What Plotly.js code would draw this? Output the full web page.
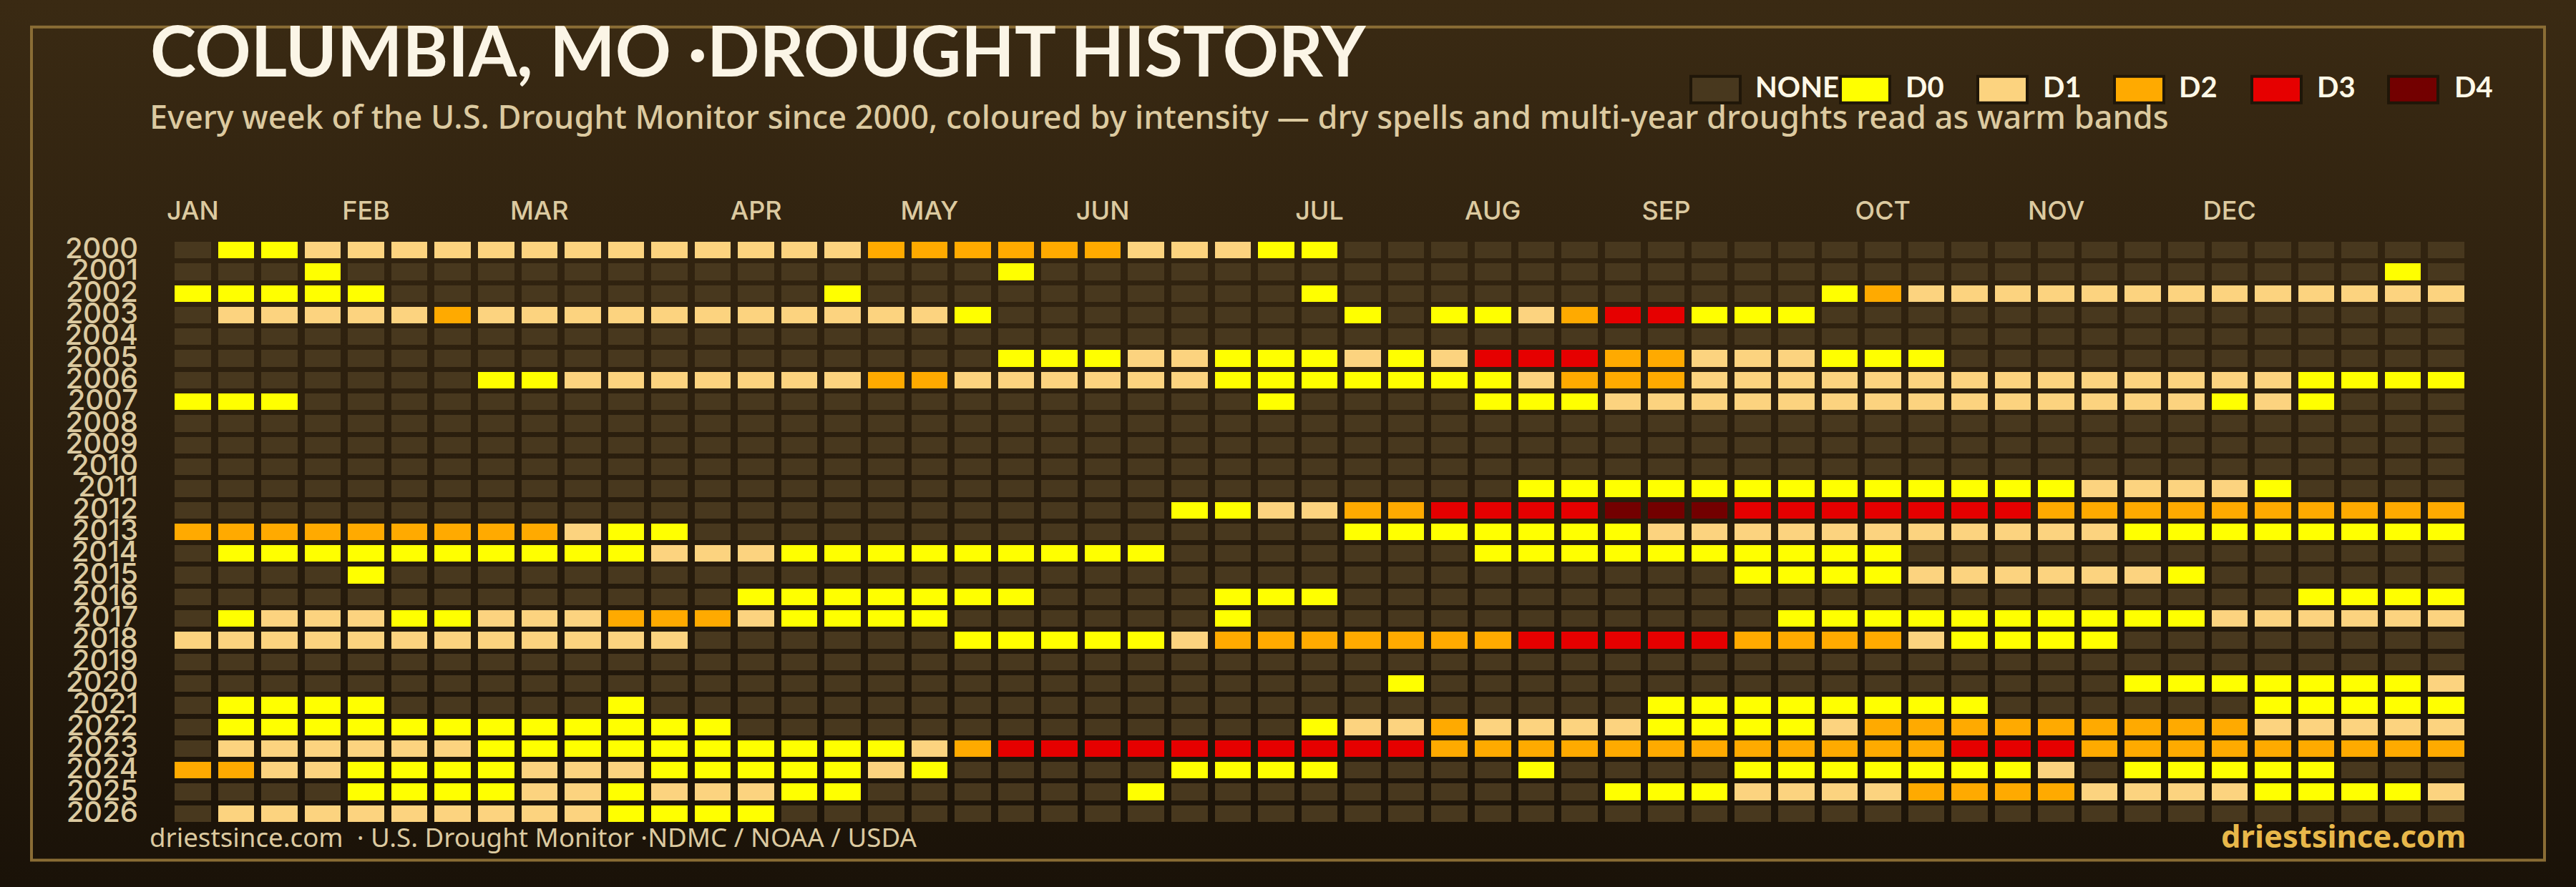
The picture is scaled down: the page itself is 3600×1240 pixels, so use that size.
<!DOCTYPE html>
<html>
<head>
<meta charset="utf-8">
<script src="https://cdn.plot.ly/plotly-3.0.1.min.js"></script>
<style>
  html, body { margin: 0; padding: 0; overflow: hidden; }
  body { width: 3600px; height: 1240px; background: linear-gradient(180deg, #3a2a13 0%, #1a1208 100%); }
</style>
</head>
<body>
<div id="chart"></div>
<script>
// weekly drought class per year: 0 none, 1 D0 ... 5 D4
const y2000 = [0,1,1,2,2,2,2,2,2,2, 2,2,2,2,2,2,3,3,3,3, 3,3,2,2,2,1,1,0,0,0, 0,0,0,0,0,0,0,0,0,0, 0,0,0,0,0,0,0,0,0,0, 0,0,0];
const y2001 = [0,0,0,1,0,0,0,0,0,0, 0,0,0,0,0,0,0,0,0,1, 0,0,0,0,0,0,0,0,0,0, 0,0,0,0,0,0,0,0,0,0, 0,0,0,0,0,0,0,0,0,0, 0,1,0];
const y2002 = [1,1,1,1,1,0,0,0,0,0, 0,0,0,0,0,1,0,0,0,0, 0,0,0,0,0,0,1,0,0,0, 0,0,0,0,0,0,0,0,1,3, 2,2,2,2,2,2,2,2,2,2, 2,2,2];
const y2003 = [0,2,2,2,2,2,3,2,2,2, 2,2,2,2,2,2,2,2,1,0, 0,0,0,0,0,0,0,1,0,1, 1,2,3,4,4,1,1,1,0,0, 0,0,0,0,0,0,0,0,0,0, 0,0,0];
const y2004 = [0,0,0,0,0,0,0,0,0,0, 0,0,0,0,0,0,0,0,0,0, 0,0,0,0,0,0,0,0,0,0, 0,0,0,0,0,0,0,0,0,0, 0,0,0,0,0,0,0,0,0,0, 0,0,0];
const y2005 = [0,0,0,0,0,0,0,0,0,0, 0,0,0,0,0,0,0,0,0,1, 1,1,2,2,1,1,1,2,1,2, 4,4,4,3,3,2,2,2,1,1, 1,0,0,0,0,0,0,0,0,0, 0,0,0];
const y2006 = [0,0,0,0,0,0,0,1,1,2, 2,2,2,2,2,2,3,3,2,2, 2,2,2,2,1,1,1,1,1,1, 1,2,3,3,3,2,2,2,2,2, 2,2,2,2,2,2,2,2,2,1, 1,1,1];
const y2007 = [1,1,1,0,0,0,0,0,0,0, 0,0,0,0,0,0,0,0,0,0, 0,0,0,0,0,1,0,0,0,0, 1,1,1,2,2,2,2,2,2,2, 2,2,2,2,2,2,2,1,2,1, 0,0,0];
const y2008 = [0,0,0,0,0,0,0,0,0,0, 0,0,0,0,0,0,0,0,0,0, 0,0,0,0,0,0,0,0,0,0, 0,0,0,0,0,0,0,0,0,0, 0,0,0,0,0,0,0,0,0,0, 0,0,0];
const y2009 = [0,0,0,0,0,0,0,0,0,0, 0,0,0,0,0,0,0,0,0,0, 0,0,0,0,0,0,0,0,0,0, 0,0,0,0,0,0,0,0,0,0, 0,0,0,0,0,0,0,0,0,0, 0,0,0];
const y2010 = [0,0,0,0,0,0,0,0,0,0, 0,0,0,0,0,0,0,0,0,0, 0,0,0,0,0,0,0,0,0,0, 0,0,0,0,0,0,0,0,0,0, 0,0,0,0,0,0,0,0,0,0, 0,0,0];
const y2011 = [0,0,0,0,0,0,0,0,0,0, 0,0,0,0,0,0,0,0,0,0, 0,0,0,0,0,0,0,0,0,0, 0,1,1,1,1,1,1,1,1,1, 1,1,1,1,2,2,2,2,1,0, 0,0,0];
const y2012 = [0,0,0,0,0,0,0,0,0,0, 0,0,0,0,0,0,0,0,0,0, 0,0,0,1,1,2,2,3,3,4, 4,4,4,5,5,5,4,4,4,4, 4,4,4,3,3,3,3,3,3,3, 3,3,3];
const y2013 = [3,3,3,3,3,3,3,3,3,2, 1,1,0,0,0,0,0,0,0,0, 0,0,0,0,0,0,0,1,1,1, 1,1,1,1,2,2,2,2,2,2, 2,2,2,2,2,1,1,1,1,1, 1,1,1];
const y2014 = [0,1,1,1,1,1,1,1,1,1, 1,2,2,2,1,1,1,1,1,1, 1,1,1,0,0,0,0,0,0,0, 1,1,1,1,1,1,1,1,1,1, 0,0,0,0,0,0,0,0,0,0, 0,0,0];
const y2015 = [0,0,0,0,1,0,0,0,0,0, 0,0,0,0,0,0,0,0,0,0, 0,0,0,0,0,0,0,0,0,0, 0,0,0,0,0,0,1,1,1,1, 2,2,2,2,2,2,1,0,0,0, 0,0,0];
const y2016 = [0,0,0,0,0,0,0,0,0,0, 0,0,0,1,1,1,1,1,1,1, 0,0,0,0,1,1,1,0,0,0, 0,0,0,0,0,0,0,0,0,0, 0,0,0,0,0,0,0,0,0,1, 1,1,1];
const y2017 = [0,1,2,2,2,1,1,2,2,2, 3,3,3,2,1,1,1,1,0,0, 0,0,0,0,1,0,0,0,0,0, 0,0,0,0,0,0,0,1,1,1, 1,1,1,1,1,1,1,2,2,2, 2,2,2];
const y2018 = [2,2,2,2,2,2,2,2,2,2, 2,2,0,0,0,0,0,0,1,1, 1,1,1,2,3,3,3,3,3,3, 3,4,4,4,4,4,3,3,3,3, 2,1,1,1,1,0,0,0,0,0, 0,0,0];
const y2019 = [0,0,0,0,0,0,0,0,0,0, 0,0,0,0,0,0,0,0,0,0, 0,0,0,0,0,0,0,0,0,0, 0,0,0,0,0,0,0,0,0,0, 0,0,0,0,0,0,0,0,0,0, 0,0,0];
const y2020 = [0,0,0,0,0,0,0,0,0,0, 0,0,0,0,0,0,0,0,0,0, 0,0,0,0,0,0,0,0,1,0, 0,0,0,0,0,0,0,0,0,0, 0,0,0,0,0,1,1,1,1,1, 1,1,2];
const y2021 = [0,1,1,1,1,0,0,0,0,0, 1,0,0,0,0,0,0,0,0,0, 0,0,0,0,0,0,0,0,0,0, 0,0,0,0,1,1,1,1,1,1, 1,1,0,0,0,0,0,0,1,1, 1,1,1];
const y2022 = [0,1,1,1,1,1,1,1,1,1, 1,1,1,0,0,0,0,0,0,0, 0,0,0,0,0,0,1,2,2,3, 2,2,2,2,1,1,1,1,2,3, 3,3,3,3,3,3,3,3,2,2, 2,2,2];
const y2023 = [0,2,2,2,2,2,2,1,1,1, 1,1,1,1,1,1,1,2,3,4, 4,4,4,4,4,4,4,4,4,3, 3,3,3,3,3,3,3,3,3,3, 3,4,4,4,3,3,3,3,3,3, 3,3,3];
const y2024 = [3,3,2,2,1,1,1,1,2,2, 2,1,1,1,1,1,2,1,0,0, 0,0,0,1,1,1,1,0,0,0, 0,1,0,0,0,0,1,1,1,1, 1,1,1,2,0,1,1,1,1,1, 0,0,0];
const y2025 = [0,0,0,0,1,1,1,1,2,2, 1,2,2,2,1,1,0,0,0,0, 0,0,1,0,0,0,0,0,0,0, 0,0,0,1,1,1,2,2,2,2, 3,3,3,3,2,2,2,2,1,1, 1,1,2];
const y2026 = [0,2,2,2,2,2,2,2,2,2, 1,1,1,1,0,0,0,0,0,0, 0,0,0,0,0,0,0,0,0,0, 0,0,0,0,0,0,0,0,0,0, 0,0,0,0,0,0,0,0,0,0, 0,0,0];

const weekGrid = [y2000,y2001,y2002,y2003,y2004,y2005,y2006,y2007,y2008,y2009,y2010,y2011,y2012,y2013,
  y2014,y2015,y2016,y2017,y2018,y2019,y2020,y2021,y2022,y2023,y2024,y2025,y2026];
const years = weekGrid.map((r, i) => 2000 + i);
const weeks = y2000.map((v, i) => i);

const monthLabels = ['JAN','FEB','MAR','APR','MAY','JUN','JUL','AUG','SEP','OCT','NOV','DEC'];
const monthWeeks = [0,4,8,13,17,21,26,30,34,39,43,47];

const levelLabels = ['NONE','D0','D1','D2','D3','D4'];
const levelColors = ['#48381e','#ffff00','#fcd37f','#ffaa00','#e60000','#730000'];
const swatchLeft = [2361,2570,2762,2953,3145,3336];
const labelLeft = [2451,2661,2853,3043,3236,3428];

const FONT = 'Lato, sans-serif';
const BODY_FONT = '"Noto Sans", sans-serif';
const TICK_FONT = 'Inter, sans-serif';
const W = 3600, H = 1240;
const L = 239, R = 3449, T = 334.5, B = 1153.5;
const px = x => (x - L) / (R - L);
const py = y => (B - y) / (B - T);

// stepped colour scale so each level gets one flat colour
const colorscale = [];
levelColors.forEach((c, i) => {
  colorscale.push([i / 6, c]);
  colorscale.push([(i + 1) / 6, c]);
});

const trace = {
  type: 'heatmap',
  x: weeks,
  y: years,
  z: weekGrid,
  zmin: -0.5,
  zmax: 5.5,
  colorscale: colorscale,
  showscale: false,
  xgap: 10,
  ygap: 7,
  hoverinfo: 'skip'
};

function note(x, y, text, size, color, anchor, weight, family) {
  return {
    xref: 'paper', yref: 'paper', x: px(x), y: py(y), text: text, showarrow: false,
    xanchor: anchor || 'left', yanchor: 'middle',
    font: { family: family || FONT, size: size, color: color, weight: weight || 400 }
  };
}

const annotations = [
  note(207, 162, 'Every week of the U.S. Drought Monitor since 2000, coloured by intensity \u2014 dry spells and multi-year droughts read as warm bands', 45.1, '#dccaa0', 'left', 500, BODY_FONT),
  note(207, 1171, 'driestsince.com \u00a0\u00b7 U.S. Drought Monitor \u00b7NDMC / NOAA / USDA', 36.7, '#dccaa0', 'left', 400, BODY_FONT),
  note(3448, 1169, 'driestsince.com', 43.5, '#e8b84a', 'right', 700, BODY_FONT)
];
const shapes = [{
  type: 'rect', xref: 'paper', yref: 'paper',
  x0: px(44), x1: px(3556), y0: py(37), y1: py(1203),
  line: { color: '#8a6d35', width: 4 }, fillcolor: 'rgba(0,0,0,0)'
}];
levelLabels.forEach((lab, i) => {
  shapes.push({
    type: 'rect', xref: 'paper', yref: 'paper',
    x0: px(swatchLeft[i] + 2), x1: px(swatchLeft[i] + 71), y0: py(106), y1: py(143),
    line: { color: '#1f1608', width: 4 }, fillcolor: levelColors[i]
  });
  annotations.push(note(labelLeft[i], 120, lab, 40, '#fff8e7', 'left', 700));
});

const layout = {
  width: W,
  height: H,
  margin: { l: L, r: W - R, t: T, b: H - B, pad: 0 },
  paper_bgcolor: 'rgba(0,0,0,0)',
  plot_bgcolor: 'rgba(0,0,0,0)',
  font: { family: FONT },
  title: {
    text: 'COLUMBIA, MO \u00b7DROUGHT HISTORY',
    xref: 'container', yref: 'container', x: 210 / W, xanchor: 'left', y: 1 - 73 / H, yanchor: 'middle',
    font: { family: FONT, size: 96.8, color: '#fbf5e6', weight: 700 }
  },
  xaxis: {
    side: 'top',
    tickmode: 'array',
    tickvals: monthWeeks,
    ticktext: monthLabels,
    tickangle: 0,
    ticks: '',
    ticklabelstandoff: 20,
    tickfont: { family: TICK_FONT, size: 36, color: '#dccaa0', weight: 500 },
    showgrid: false,
    zeroline: false,
    showline: false,
    range: [-0.5, 52.5]
  },
  yaxis: {
    tickmode: 'array',
    tickvals: years,
    ticktext: years.map(String),
    ticks: '',
    ticklabelstandoff: 45,
    ticklabelshift: 3,
    tickfont: { family: TICK_FONT, size: 40, color: '#dccaa0', weight: 500 },
    showgrid: false,
    zeroline: false,
    showline: false,
    range: [2026.5, 1999.5]
  },
  shapes: shapes,
  annotations: annotations
};

Plotly.newPlot('chart', [trace], layout, { displayModeBar: false, responsive: false });
</script>
</body>
</html>
